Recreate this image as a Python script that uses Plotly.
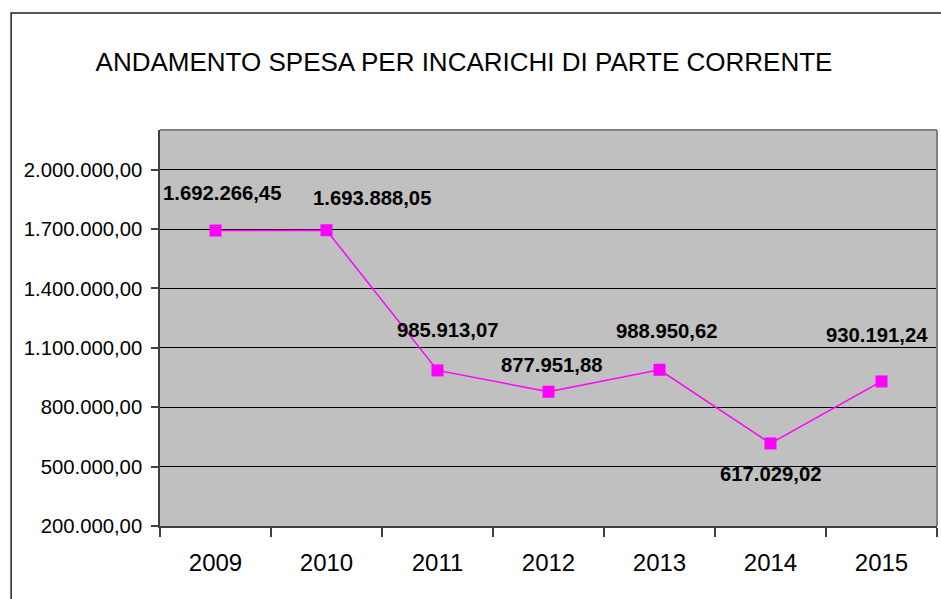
import plotly.graph_objects as go

years = ["2009", "2010", "2011", "2012", "2013", "2014", "2015"]
spesa = [1692266.45, 1693888.05, 985913.07, 877951.88, 988950.62, 617029.02, 930191.24]
title_text = "ANDAMENTO SPESA PER INCARICHI DI PARTE CORRENTE"

# label offsets (pixels) relative to each point
label_dx = [6, 45, 10, 3, 7, 0, -5]
label_dy = [38, 32, 40, 27, 39, -31, 46]

FONT = "Liberation Sans, Arial, sans-serif"


def fmt_it(v):
    s = f"{v:,.2f}"
    return s.replace(",", "X").replace(".", ",").replace("X", ".")


fig = go.Figure()
fig.add_trace(go.Scatter(
    x=years, y=spesa, mode="lines+markers",
    line=dict(color="#FF00FF", width=1.5),
    marker=dict(symbol="square", size=12, color="#FF00FF"),
    hoverinfo="skip", showlegend=False,
))

annotations = []
for i, (v, dx, dy) in enumerate(zip(spesa, label_dx, label_dy)):
    annotations.append(dict(
        x=i, y=v, xref="x", yref="y", text=fmt_it(v), showarrow=False,
        xshift=dx, yshift=dy,
        font=dict(family=FONT, size=20.3, color="#000000", weight="bold"),
    ))

shapes = [
    # outer chart frame
    dict(type="rect", xref="paper", yref="paper", x0=-0.1916, x1=1.02, y0=-0.25, y1=1.2955,
         line=dict(color="#202020", width=1.5), fillcolor="rgba(0,0,0,0)", layer="below"),
    # plot area frame (top/right gray)
    dict(type="line", xref="paper", yref="paper", x0=0, x1=1, y0=1, y1=1,
         line=dict(color="#808080", width=2)),
    dict(type="line", xref="paper", yref="paper", x0=1, x1=1, y0=0, y1=1,
         line=dict(color="#808080", width=2)),
]

fig.update_layout(
    width=941, height=599,
    margin=dict(l=160, r=4, t=130, b=73, autoexpand=False),
    paper_bgcolor="white", plot_bgcolor="#C0C0C0",
    separators=",.",
    font=dict(family=FONT, color="#000000"),
    title=dict(text=title_text, x=464 / 941, xanchor="center", xref="container",
               y=1 - 62 / 599, yanchor="middle", yref="container",
               font=dict(family=FONT, size=26, color="#000000")),
    xaxis=dict(type="category", range=[-0.5, 6.5], tickson="boundaries", ticks="outside", ticklen=9,
               tickcolor="#404040", tickwidth=1.5, showgrid=False, tickangle=0,
               showline=True, linecolor="#404040", linewidth=1.5, automargin=False,
               tickfont=dict(family=FONT, size=24, color="#000000"),
               ticklabelstandoff=14, fixedrange=True),
    yaxis=dict(range=[200000, 2200000], tickvals=[200000, 500000, 800000, 1100000, 1400000, 1700000, 2000000],
               tickformat=",.2f", ticks="outside", ticklen=7, tickcolor="#404040", tickwidth=1.5,
               showgrid=True, gridcolor="#000000", gridwidth=1, zeroline=False, automargin=False,
               showline=True, linecolor="#404040", linewidth=1.5, ticklabelstandoff=5,
               tickfont=dict(family=FONT, size=20.3, color="#000000"), fixedrange=True),
    annotations=annotations,
    shapes=shapes,
)

fig.write_html("out.html", config={"displayModeBar": False},
               post_script="document.body.style.margin='0';")
